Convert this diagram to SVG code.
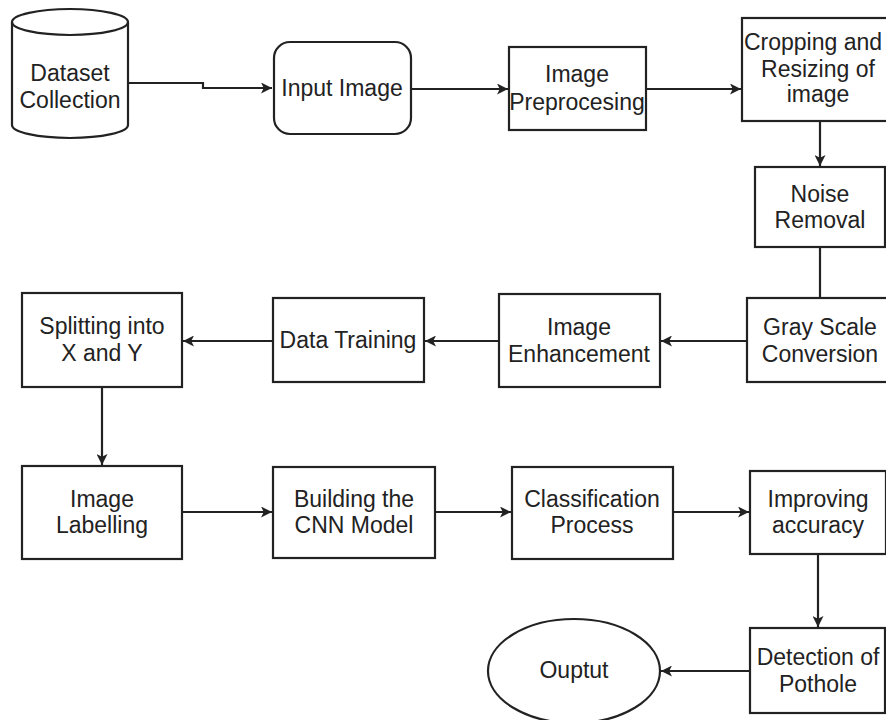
<svg xmlns="http://www.w3.org/2000/svg" width="886" height="720" viewBox="0 0 886 720">
<defs>
<marker id="arr" viewBox="0 0 10 10" refX="10" refY="5" markerWidth="11" markerHeight="11" markerUnits="userSpaceOnUse" orient="auto">
<path d="M0,0 L10,5 L0,10 L2.5,5 Z" fill="#222"/>
</marker>
<style>
.box{fill:#fff;stroke:#222;stroke-width:2.2}
.t{font-family:"Liberation Sans",Arial,sans-serif;font-size:23px;fill:#222;text-anchor:middle}
.c{fill:none;stroke:#222;stroke-width:2.2}
</style>
</defs>
<rect width="886" height="720" fill="#fff"/>
<g id="connectors">
<path class="c" d="M129,83 H203 V88 H272" marker-end="url(#arr)"/>
<path class="c" d="M411,89 H508" marker-end="url(#arr)"/>
<path class="c" d="M646,89 H741" marker-end="url(#arr)"/>
<path class="c" d="M820,121 V166" marker-end="url(#arr)"/>
<path class="c" d="M820,247 V298"/>
<path class="c" d="M747,341 H661" marker-end="url(#arr)"/>
<path class="c" d="M499,341 H425" marker-end="url(#arr)"/>
<path class="c" d="M273,341 H183" marker-end="url(#arr)"/>
<path class="c" d="M102,387 V465" marker-end="url(#arr)"/>
<path class="c" d="M182,512 H272" marker-end="url(#arr)"/>
<path class="c" d="M435,512 H511" marker-end="url(#arr)"/>
<path class="c" d="M673,512 H749" marker-end="url(#arr)"/>
<path class="c" d="M818,554 V627" marker-end="url(#arr)"/>
<path class="c" d="M750,671 H661" marker-end="url(#arr)"/>
</g>
<g id="dataset">
<path class="box" d="M12,22 A58,13 0 0 1 128,22 V125 A58,13 0 0 1 12,125 Z"/>
<path class="c" d="M12,22 A58,13 0 0 0 128,22"/>
<text class="t" x="70" y="81">Dataset</text>
<text class="t" x="70" y="108">Collection</text>
</g>
<g id="input">
<rect class="box" x="274" y="42" width="137" height="92" rx="16"/>
<text class="t" x="342" y="96">Input Image</text>
</g>
<g id="preproc">
<rect class="box" x="509" y="47" width="137" height="83"/>
<text class="t" x="577" y="82">Image</text>
<text class="t" x="577" y="110">Preprocesing</text>
</g>
<g id="crop">
<rect class="box" x="742" y="18" width="156" height="103"/>
<text class="t" x="813" y="50">Cropping and</text>
<text class="t" x="818" y="77">Resizing of</text>
<text class="t" x="818" y="102">image</text>
</g>
<g id="noise">
<rect class="box" x="755" y="167" width="130" height="80"/>
<text class="t" x="820" y="202">Noise</text>
<text class="t" x="820" y="228">Removal</text>
</g>
<g id="gray">
<rect class="box" x="747" y="298" width="145" height="84"/>
<text class="t" x="820" y="335">Gray Scale</text>
<text class="t" x="820" y="362">Conversion</text>
</g>
<g id="enhance">
<rect class="box" x="499" y="294" width="161" height="93"/>
<text class="t" x="579" y="335">Image</text>
<text class="t" x="579" y="362">Enhancement</text>
</g>
<g id="training">
<rect class="box" x="273" y="298" width="151" height="84"/>
<text class="t" x="348" y="348">Data Training</text>
</g>
<g id="split">
<rect class="box" x="22" y="293" width="160" height="94"/>
<text class="t" x="102" y="334">Splitting into</text>
<text class="t" x="102" y="361">X and Y</text>
</g>
<g id="label">
<rect class="box" x="22" y="466" width="160" height="93"/>
<text class="t" x="102" y="507">Image</text>
<text class="t" x="102" y="533">Labelling</text>
</g>
<g id="cnn">
<rect class="box" x="273" y="467" width="162" height="91"/>
<text class="t" x="354" y="507">Building the</text>
<text class="t" x="354" y="533">CNN Model</text>
</g>
<g id="classify">
<rect class="box" x="512" y="467" width="161" height="92"/>
<text class="t" x="592" y="507">Classification</text>
<text class="t" x="592" y="533">Process</text>
</g>
<g id="improve">
<rect class="box" x="750" y="471" width="136" height="83"/>
<text class="t" x="818" y="507">Improving</text>
<text class="t" x="818" y="533">accuracy</text>
</g>
<g id="detect">
<rect class="box" x="750" y="628" width="135" height="85"/>
<text class="t" x="818" y="665">Detection of</text>
<text class="t" x="818" y="692">Pothole</text>
</g>
<g id="output">
<ellipse class="box" cx="574" cy="671" rx="86" ry="52"/>
<text class="t" x="574" y="678">Ouptut</text>
</g>
</svg>
